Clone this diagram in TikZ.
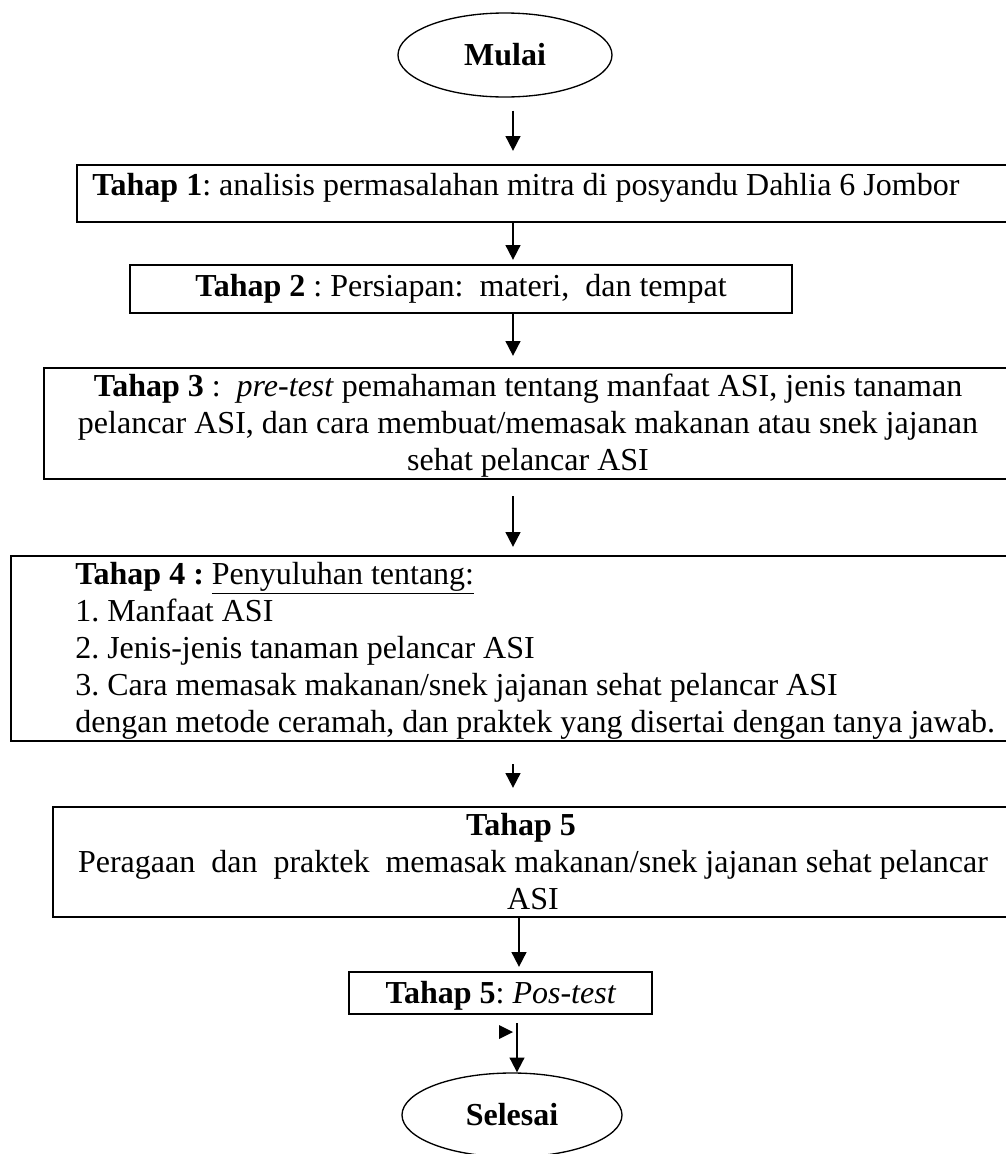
\documentclass[tikz,border=0pt]{standalone}
\usepackage{fontspec}
\setmainfont{Liberation Serif}
\usetikzlibrary{arrows.meta,shapes.geometric,fit}
\begin{document}
\begin{tikzpicture}[x=0.75pt,y=-0.75pt,
  box/.style={draw, line width=1.7pt, rectangle, inner sep=0pt},
  oval/.style={draw, ellipse, line width=1pt, inner sep=0pt,
    font=\fontsize{24}{27.5}\selectfont\bfseries},
  txt/.style={inner sep=0pt, font=\fontsize{24}{27.5}\selectfont\frenchspacing},
  arr/.style={line width=1.4pt, -{Triangle[length=11pt,width=11pt]}},
]
\useasboundingbox (0,0) rectangle (1006,1154);
\clip (0,0) rectangle (1006,1154);

% terminals
\node[oval, minimum width=160.5pt, minimum height=63pt] (m) at (505,55) {Mulai};
\node[oval, minimum width=165pt, minimum height=63pt] (s) at (512,1115) {Selesai};

% boxes
\node[box, fit={(77,165) (1015,222)}] (b1) {};
\node[box, fit={(130,265) (792,313)}] (b2) {};
\node[box, fit={(44,368) (1012,479)}] (b3) {};
\node[box, fit={(11,556) (1015,741)}] (b4) {};
\node[box, fit={(53,807) (1013,917)}] (b5) {};
\node[box, fit={(349,972) (652,1014)}] (b6) {};

% texts
\node[txt, anchor=base west] (t1) at (92,195) {\textbf{Tahap 1}: analisis permasalahan mitra di posyandu Dahlia 6 Jombor};
\node[txt, anchor=base] (t2) at (461,296) {\textbf{Tahap 2} : Persiapan:\ \ materi,\ \ dan tempat};
\node[txt, anchor=base] (t3a) at (528,396) {\textbf{Tahap 3} :\ \ \textit{pre-test} pemahaman tentang manfaat ASI, jenis tanaman};
\node[txt, anchor=base] (t3b) at (528,433) {pelancar ASI, dan cara membuat/memasak makanan atau snek jajanan};
\node[txt, anchor=base] (t3c) at (528,470) {sehat pelancar ASI};
\node[txt, anchor=base west] (t4a) at (75,584) {\textbf{Tahap 4 :} \underline{Penyuluhan tentang:}};
\node[txt, anchor=base west] (t4b) at (75,621) {1. Manfaat ASI};
\node[txt, anchor=base west] (t4c) at (75,658) {2. Jenis-jenis tanaman pelancar ASI};
\node[txt, anchor=base west] (t4d) at (75,695) {3. Cara memasak makanan/snek jajanan sehat pelancar ASI};
\node[txt, anchor=base west] (t4e) at (75,732) {dengan metode ceramah, dan praktek yang disertai dengan tanya jawab.};
\node[txt, anchor=base] (t5a) at (521,835) {\textbf{Tahap 5}};
\node[txt, anchor=base] (t5b) at (533,872) {Peragaan\ \ dan\ \ praktek\ \ memasak makanan/snek jajanan sehat pelancar};
\node[txt, anchor=base] (t5c) at (533,909) {ASI};
\node[txt, anchor=base] (t6) at (501,1003) {\textbf{Tahap 5}: \textit{Pos-test}};

% connector columns
\coordinate (c1) at (513,0);
\coordinate (c2) at (519,0);
\coordinate (c3) at (517,0);

\draw[arr, shorten <=9.75pt, shorten >=9.75pt] (m.south -| c1) -- (b1.north -| c1);
\draw[arr, shorten >=3pt] (b1.south -| c1) -- (b2.north -| c1);
\draw[arr, shorten >=8.25pt] (b2.south -| c1) -- (b3.north -| c1);
\draw[arr, shorten <=12pt, shorten >=6pt] (b3.south -| c1) -- (b4.north -| c1);
\draw[arr, shorten <=16.5pt, shorten >=13.5pt] (b4.south -| c1) -- (b5.north -| c1);
\draw[arr, shorten >=3pt] (b5.south -| c2) -- (b6.north -| c2);
\draw[arr, shorten <=6pt] (b6.south -| c3) -- (s.north -| c3);

% stray arrowhead
\fill (499,1025) -- (513,1032) -- (499,1039) -- cycle;
\end{tikzpicture}
\end{document}
